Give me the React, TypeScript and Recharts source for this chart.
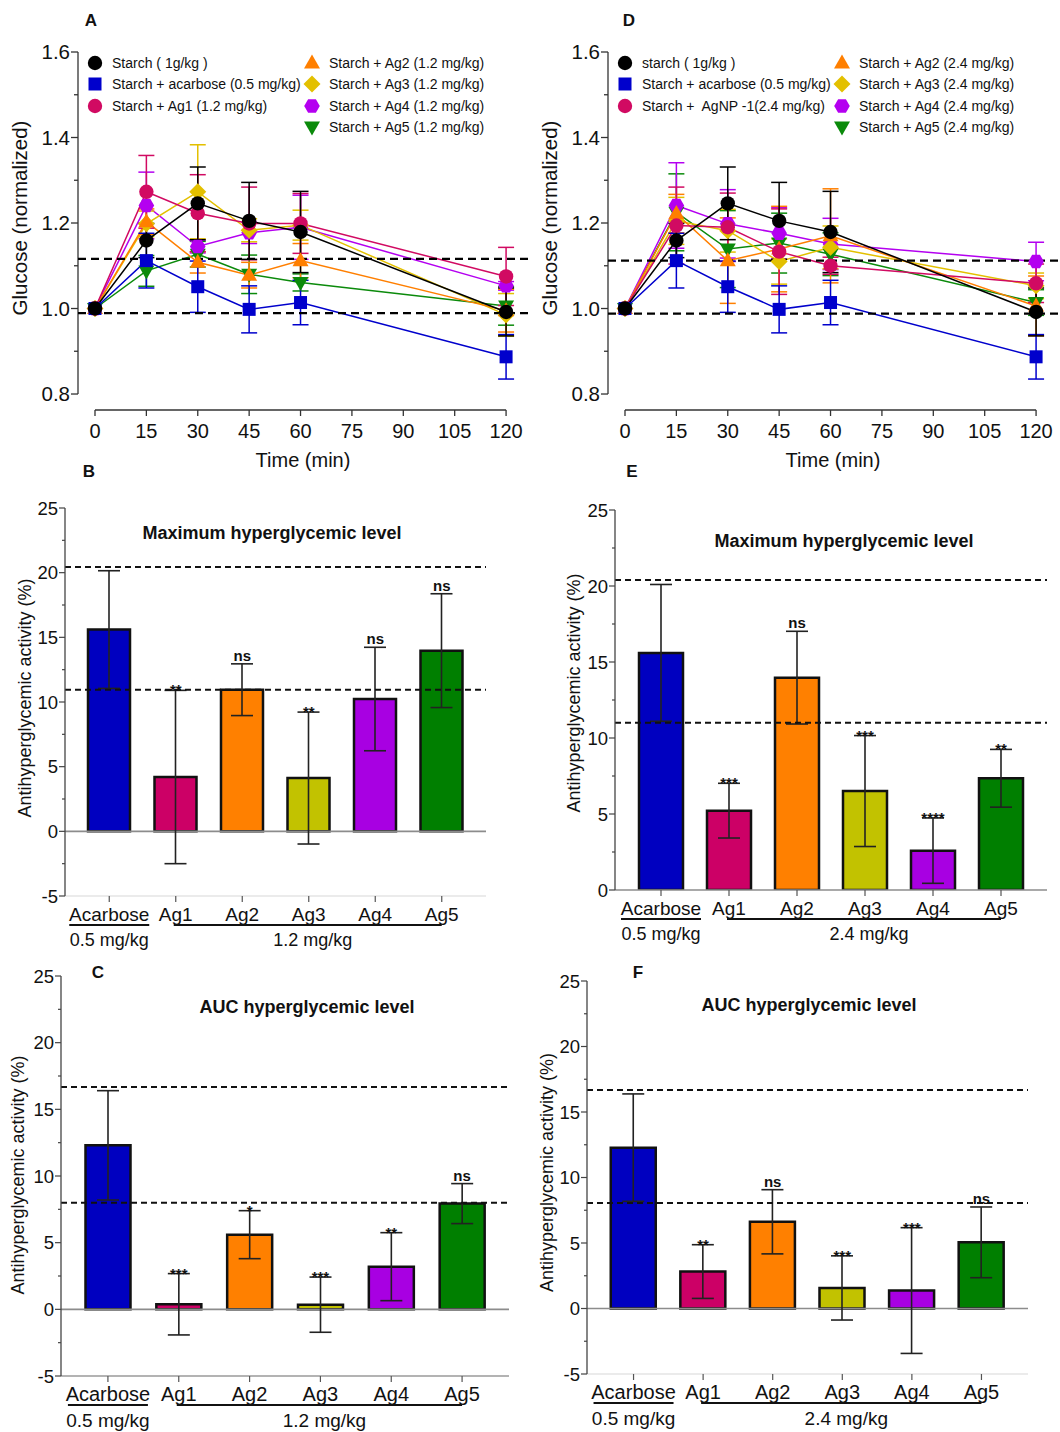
import React from 'react';
import {
  LineChart, Line, ComposedChart, Bar, Cell, XAxis, YAxis, ErrorBar,
  ReferenceLine, Legend, LabelList,
} from 'recharts';

const FONT = "'Liberation Sans', Arial, Helvetica, sans-serif";
const INK = '#111';

// ---------- time course (A, D) ----------
const times = [0, 15, 30, 45, 60, 120];
const timeTicks = [0, 15, 30, 45, 60, 75, 90, 105, 120];
const glucoseTicks = [0.8, 0.9, 1.0, 1.1, 1.2, 1.3, 1.4, 1.5, 1.6];

// controls, shared by A and D
const starchMean = [1.0, 1.159, 1.246, 1.205, 1.179, 0.992];
const starchSem = [0, 0.04, 0.085, 0.09, 0.095, 0.056];
const acarboseMean = [1.0, 1.112, 1.051, 0.998, 1.014, 0.887];
const acarboseSem = [0, 0.064, 0.06, 0.055, 0.052, 0.052];

// 1.2 mg/kg (A)
const ag1Low = [1.0, 1.273, 1.223, 1.199, 1.199, 1.075];
const ag1LowSem = [0, 0.085, 0.09, 0.085, 0.07, 0.068];
const ag2Low = [1.0, 1.203, 1.108, 1.078, 1.112, 0.995];
const ag2LowSem = [0, 0.03, 0.025, 0.03, 0.04, 0.05];
const ag3Low = [1.0, 1.198, 1.273, 1.183, 1.195, 0.985];
const ag3LowSem = [0, 0.03, 0.11, 0.027, 0.035, 0.05];
const ag4Low = [1.0, 1.241, 1.145, 1.177, 1.19, 1.053];
const ag4LowSem = [0, 0.078, 0.015, 0.025, 0.075, 0.01];
const ag5Low = [1.0, 1.088, 1.127, 1.08, 1.061, 1.006];
const ag5LowSem = [0, 0.036, 0.03, 0.045, 0.02, 0.045];

// 2.4 mg/kg (D)
const ag1High = [1.0, 1.194, 1.19, 1.133, 1.1, 1.059];
const ag1HighSem = [0, 0.09, 0.08, 0.1, 0.02, 0.045];
const ag2High = [1.0, 1.222, 1.112, 1.139, 1.17, 1.006];
const ag2HighSem = [0, 0.045, 0.1, 0.1, 0.11, 0.07];
const ag3High = [1.0, 1.205, 1.182, 1.11, 1.143, 1.053];
const ag3HighSem = [0, 0.055, 0.05, 0.053, 0.05, 0.03];
const ag4High = [1.0, 1.241, 1.198, 1.176, 1.151, 1.11];
const ag4HighSem = [0, 0.1, 0.08, 0.06, 0.06, 0.045];
const ag5High = [1.0, 1.225, 1.139, 1.153, 1.127, 1.014];
const ag5HighSem = [0, 0.09, 0.09, 0.07, 0.05, 0.03];

const glucoseRefLow = [1.116, 0.989];
const glucoseRefHigh = [1.112, 0.988];

// ---------- antihyperglycemic activity (B, C, E, F) ----------
const groups = ['Acarbose', 'Ag1', 'Ag2', 'Ag3', 'Ag4', 'Ag5'];
const barColors = ['#0000c0', '#cc0066', '#ff8000', '#c2c200', '#a800e2', '#007f00'];
const ticksWithNeg = [-5, -2.5, 0, 2.5, 5, 7.5, 10, 12.5, 15, 17.5, 20, 22.5, 25];
const ticksPos = [0, 2.5, 5, 7.5, 10, 12.5, 15, 17.5, 20, 22.5, 25];

const maxMeanLow = [15.6, 4.2, 10.95, 4.12, 10.23, 13.97];
const maxErrLow = [4.55, 6.7, 2.0, 5.1, 4.0, 4.4];
const maxSigLow = ['', '**', 'ns', '**', 'ns', 'ns'];
const maxRefLow = [20.44, 10.95];

const maxMeanHigh = [15.6, 5.22, 13.97, 6.51, 2.59, 7.35];
const maxErrHigh = [4.5, 1.8, 3.05, 3.65, 2.15, 1.9];
const maxSigHigh = ['', '***', 'ns', '***', '****', '**'];
const maxRefHigh = [20.4, 11.0];

const aucMeanLow = [12.3, 0.38, 5.6, 0.35, 3.2, 7.93];
const aucErrLow = [4.1, 2.3, 1.8, 2.07, 2.55, 1.5];
const aucSigLow = ['', '***', '*', '***', '**', 'ns'];
const aucRefLow = [16.68, 8.0];

const aucMeanHigh = [12.28, 2.82, 6.62, 1.57, 1.37, 5.05];
const aucErrHigh = [4.1, 2.05, 2.45, 2.45, 4.8, 2.7];
const aucSigHigh = ['', '**', 'ns', '***', '***', 'ns'];
const aucRefHigh = [16.68, 8.05];

type Shape = 'circle' | 'square' | 'triangle' | 'diamond' | 'hexagon' | 'triangleDown';

const lowSeries = [
  { key: 'starch', label: 'Starch ( 1g/kg )', color: '#000000', shape: 'circle', mean: starchMean, sem: starchSem },
  { key: 'acarbose', label: 'Starch + acarbose (0.5 mg/kg)', color: '#0000cc', shape: 'square', mean: acarboseMean, sem: acarboseSem },
  { key: 'ag1', label: 'Starch + Ag1 (1.2 mg/kg)', color: '#d10a62', shape: 'circle', mean: ag1Low, sem: ag1LowSem },
  { key: 'ag2', label: 'Starch + Ag2 (1.2 mg/kg)', color: '#ff7f00', shape: 'triangle', mean: ag2Low, sem: ag2LowSem },
  { key: 'ag3', label: 'Starch + Ag3 (1.2 mg/kg)', color: '#e3c000', shape: 'diamond', mean: ag3Low, sem: ag3LowSem },
  { key: 'ag4', label: 'Starch + Ag4 (1.2 mg/kg)', color: '#b400f0', shape: 'hexagon', mean: ag4Low, sem: ag4LowSem },
  { key: 'ag5', label: 'Starch + Ag5 (1.2 mg/kg)', color: '#0b8a0b', shape: 'triangleDown', mean: ag5Low, sem: ag5LowSem },
];

const highSeries = [
  { key: 'starch', label: 'starch ( 1g/kg )', color: '#000000', shape: 'circle', mean: starchMean, sem: starchSem },
  { key: 'acarbose', label: 'Starch + acarbose (0.5 mg/kg)', color: '#0000cc', shape: 'square', mean: acarboseMean, sem: acarboseSem },
  { key: 'ag1', label: 'Starch +  AgNP -1(2.4 mg/kg)', color: '#d10a62', shape: 'circle', mean: ag1High, sem: ag1HighSem },
  { key: 'ag2', label: 'Starch + Ag2 (2.4 mg/kg)', color: '#ff7f00', shape: 'triangle', mean: ag2High, sem: ag2HighSem },
  { key: 'ag3', label: 'Starch + Ag3 (2.4 mg/kg)', color: '#e3c000', shape: 'diamond', mean: ag3High, sem: ag3HighSem },
  { key: 'ag4', label: 'Starch + Ag4 (2.4 mg/kg)', color: '#b400f0', shape: 'hexagon', mean: ag4High, sem: ag4HighSem },
  { key: 'ag5', label: 'Starch + Ag5 (2.4 mg/kg)', color: '#0b8a0b', shape: 'triangleDown', mean: ag5High, sem: ag5HighSem },
];

const X_MIN = -4.96;
const X_MAX = 126.4;
const Y_MIN = 0.7626;

function Marker({ shape, cx, cy, fill }: { shape: Shape; cx: number; cy: number; fill: string }) {
  if (cx == null || cy == null) return null;
  switch (shape) {
    case 'square':
      return <rect x={cx - 6.5} y={cy - 6.5} width={13} height={13} fill={fill} />;
    case 'triangle':
      return <polygon points={`${cx},${cy - 8.5} ${cx + 8},${cy + 5.5} ${cx - 8},${cy + 5.5}`} fill={fill} />;
    case 'triangleDown':
      return <polygon points={`${cx},${cy + 8.5} ${cx + 8},${cy - 5.5} ${cx - 8},${cy - 5.5}`} fill={fill} />;
    case 'diamond':
      return <polygon points={`${cx},${cy - 8.5} ${cx + 8.5},${cy} ${cx},${cy + 8.5} ${cx - 8.5},${cy}`} fill={fill} />;
    case 'hexagon': {
      const pts = [0, 1, 2, 3, 4, 5]
        .map((k) => {
          const a = (Math.PI / 3) * k;
          return `${cx + 7.8 * Math.cos(a)},${cy + 7.8 * Math.sin(a)}`;
        })
        .join(' ');
      return <polygon points={pts} fill={fill} />;
    }
    default:
      return <circle cx={cx} cy={cy} r={7.2} fill={fill} />;
  }
}

function GlucoseTick(props: any) {
  const { x, y, payload } = props;
  const v = payload.value as number;
  const major = Math.round(v * 10) % 2 === 0;
  return (
    <g>
      <line x1={x} x2={x - (major ? 7 : 4)} y1={y} y2={y} stroke="#333" strokeWidth={1.3} />
      {major && (
        <text x={x - 8} y={y} dy="0.36em" textAnchor="end" fontSize={20.5} fill={INK} fontFamily={FONT}>
          {v.toFixed(1)}
        </text>
      )}
    </g>
  );
}

function TimeTick(props: any) {
  const { x, y, payload } = props;
  return (
    <g>
      <line x1={x} x2={x} y1={y} y2={y + 6} stroke="#333" strokeWidth={1.3} />
      <text x={x} y={y + 21} dy="0.36em" textAnchor="middle" fontSize={20} fill={INK} fontFamily={FONT}>
        {payload.value}
      </text>
    </g>
  );
}

function VTitle({ cx, cy, text, size }: any) {
  return (
    <text
      x={cx}
      y={cy}
      dy="0.36em"
      textAnchor="middle"
      transform={`rotate(-90 ${cx} ${cy})`}
      fontSize={size}
      fill={INK}
      fontFamily={FONT}
    >
      {text}
    </text>
  );
}

function GlucoseLegend({ series }: { series: any[] }) {
  const rows = [11, 32, 53.5, 75];
  return (
    <div style={{ position: 'relative', width: 450, height: 90, fontFamily: FONT, fontSize: 14, color: INK }}>
      {series.map((s, i) => {
        const right = i >= 3;
        const row = right ? i - 3 : i;
        const mx = right ? 232 : 15;
        return (
          <div
            key={s.key}
            style={{
              position: 'absolute',
              left: mx - 9,
              top: rows[row] - 9,
              height: 18,
              display: 'flex',
              alignItems: 'center',
              whiteSpace: 'pre',
            }}
          >
            <svg width={18} height={18} style={{ marginRight: 8 }}>
              <Marker shape={s.shape} cx={9} cy={9} fill={s.color} />
            </svg>
            <span>{s.label}</span>
          </div>
        );
      })}
    </div>
  );
}

function GlucosePanel({ left, series, refs }: { left: number; series: any[]; refs: number[] }) {
  const rows = times.map((t, i) => {
    const row: any = { time: t };
    series.forEach((s) => {
      row[s.key] = s.mean[i];
      row[`${s.key}Err`] = s.sem[i] ? s.sem[i] : null;
    });
    return row;
  });
  const drawOrder = [...series].reverse();
  return (
    <div style={{ position: 'absolute', left, top: 0 }}>
      <LineChart width={530} height={472} data={rows} margin={{ top: 52, right: 2, bottom: 0, left: 18 }}>
        <XAxis
          dataKey="time"
          type="number"
          domain={[X_MIN, X_MAX]}
          ticks={timeTicks}
          interval={0}
          allowDataOverflow
          axisLine={false}
          tickLine={false}
          tickSize={0}
          tickMargin={0}
          height={62}
          tick={<TimeTick />}
          label={{ value: 'Time (min)', position: 'insideBottom', offset: 5, style: { fontSize: 20, fill: INK, fontFamily: FONT } }}
        />
        <YAxis
          type="number"
          domain={[Y_MIN, 1.6]}
          ticks={glucoseTicks}
          interval={0}
          allowDataOverflow
          axisLine={false}
          tickLine={false}
          tickSize={0}
          tickMargin={0}
          width={60}
          tick={<GlucoseTick />}
          label={<VTitle cx={20} cy={218} text="Glucose (normalized)" size={20.5} />}
        />
        <ReferenceLine segment={[{ x: X_MIN, y: 0.8 }, { x: X_MIN, y: 1.6 }]} stroke="#333" strokeWidth={1.3} ifOverflow="visible" />
        <ReferenceLine segment={[{ x: 0, y: Y_MIN }, { x: 120, y: Y_MIN }]} stroke="#333" strokeWidth={1.3} ifOverflow="visible" />
        {drawOrder.map((s) => (
          <Line
            key={s.key}
            dataKey={s.key}
            stroke={s.color}
            strokeWidth={1.5}
            isAnimationActive={false}
            activeDot={false}
            dot={(p: any) => <Marker key={`${s.key}-${p.index}`} shape={s.shape} cx={p.cx} cy={p.cy} fill={s.color} />}
          >
            <ErrorBar dataKey={`${s.key}Err`} width={8} stroke={s.color} strokeWidth={1.5} direction="y" />
          </Line>
        ))}
        {refs.map((v) => (
          <ReferenceLine key={v} y={v} stroke="#000" strokeWidth={2.3} strokeDasharray="8 5" />
        ))}
        <Legend
          layout="horizontal"
          verticalAlign="middle"
          align="center"
          wrapperStyle={{ left: 80, top: 52, width: 450, height: 90 }}
          content={() => <GlucoseLegend series={series} />}
        />
      </LineChart>
    </div>
  );
}

function GroupTick(props: any) {
  const { x, y, payload, index, dose, step, font } = props;
  const st = payload && payload.offset ? payload.offset * 2 : step;
  return (
    <g fontFamily={FONT} fill={INK}>
      <line x1={x} x2={x} y1={y} y2={y + 6} stroke="#555" strokeWidth={1.2} />
      <text x={x} y={y + 18} dy="0.36em" textAnchor="middle" fontSize={font}>
        {payload.value}
      </text>
      {index === 0 && (
        <>
          <line x1={x - 40} x2={x + 40} y1={y + 29} y2={y + 29} stroke="#111" strokeWidth={2} />
          <text x={x} y={y + 44} dy="0.36em" textAnchor="middle" fontSize={font - 1}>
            0.5 mg/kg
          </text>
        </>
      )}
      {index === 1 && <line x1={x - 2} x2={x + 4 * st} y1={y + 29} y2={y + 29} stroke="#111" strokeWidth={2} />}
      {index === 3 && (
        <text x={x + 4} y={y + 44} dy="0.36em" textAnchor="middle" fontSize={font - 1}>
          {dose}
        </text>
      )}
    </g>
  );
}

function ActivityTick(props: any) {
  const { x, y, payload, font } = props;
  const v = payload.value as number;
  const major = v % 5 === 0;
  return (
    <g>
      <line x1={x} x2={x - (major ? 6 : 3)} y1={y} y2={y} stroke="#444" strokeWidth={1.2} />
      {major && (
        <text x={x - 7} y={y} dy="0.36em" textAnchor="end" fontSize={font} fill={INK} fontFamily={FONT}>
          {v}
        </text>
      )}
    </g>
  );
}

function SigLabel(props: any) {
  const { x, y, value } = props;
  if (!value) return null;
  const ns = value === 'ns';
  return (
    <text
      x={x}
      y={ns ? y - 3 : y + 5}
      textAnchor="middle"
      fontSize={ns ? 15 : 15}
      fontWeight="bold"
      fill={INK}
      fontFamily={FONT}
    >
      {value}
    </text>
  );
}

function ActivityPanel(cfg: any) {
  const rows = groups.map((g, i) => ({
    group: g,
    mean: cfg.means[i],
    err: cfg.errs[i],
    sig: cfg.sigs[i],
    top: cfg.means[i] + cfg.errs[i],
  }));
  const plotW = cfg.width - cfg.margin.left - cfg.margin.right - cfg.yWidth;
  const step = (plotW - 2 * cfg.pad) / groups.length;
  return (
    <div style={{ position: 'absolute', left: cfg.left, top: cfg.top }}>
      <ComposedChart width={cfg.width} height={cfg.height} data={rows} margin={cfg.margin}>
        <XAxis
          dataKey="group"
          type="category"
          interval={0}
          padding={{ left: cfg.pad, right: cfg.pad }}
          axisLine={{ stroke: cfg.axisStroke, strokeWidth: 1.5 }}
          tickLine={false}
          tickSize={0}
          tickMargin={0}
          height={cfg.xHeight}
          tick={<GroupTick dose={cfg.dose} step={step} font={cfg.labelFont} />}
        />
        <YAxis
          type="number"
          domain={cfg.domain}
          ticks={cfg.ticks}
          interval={0}
          allowDataOverflow
          axisLine={{ stroke: '#444', strokeWidth: 1.3 }}
          tickLine={false}
          tickSize={0}
          tickMargin={0}
          width={cfg.yWidth}
          tick={<ActivityTick font={18.5} />}
          label={<VTitle cx={cfg.titleX} cy={cfg.titleY} text="Antihyperglycemic activity (%)" size={18} />}
        />
        {cfg.zero && <ReferenceLine y={0} stroke="#8c8c8c" strokeWidth={1.6} />}
        <Bar dataKey="mean" barSize={cfg.barSize} stroke="#111" strokeWidth={2.5} isAnimationActive={false}>
          {rows.map((r, i) => (
            <Cell key={r.group} fill={barColors[i]} />
          ))}
          <ErrorBar dataKey="err" width={11} stroke="#222" strokeWidth={1.6} direction="y" />
        </Bar>
        {cfg.refs.map((v: number) => (
          <ReferenceLine key={v} y={v} stroke="#111" strokeWidth={2} strokeDasharray="6 4" />
        ))}
        <Line dataKey="top" stroke="none" dot={false} activeDot={false} isAnimationActive={false} legendType="none">
          <LabelList dataKey="sig" content={<SigLabel />} />
        </Line>
      </ComposedChart>
    </div>
  );
}

const panelLetters = [
  { t: 'A', x: 91, y: 20 },
  { t: 'D', x: 629, y: 20 },
  { t: 'B', x: 89, y: 471 },
  { t: 'E', x: 632, y: 471 },
  { t: 'C', x: 98, y: 972 },
  { t: 'F', x: 638, y: 972 },
];

const panelTitles = [
  { t: 'Maximum hyperglycemic level', x: 272, y: 533 },
  { t: 'Maximum hyperglycemic level', x: 844, y: 541 },
  { t: 'AUC hyperglycemic level', x: 307, y: 1007 },
  { t: 'AUC hyperglycemic level', x: 809, y: 1005 },
];

export default function App() {
  return (
    <div style={{ position: 'absolute', left: 0, top: 0, width: 1060, height: 1432, background: '#fff', fontFamily: FONT, overflow: 'hidden' }}>
      <GlucosePanel left={0} series={lowSeries} refs={glucoseRefLow} />
      <GlucosePanel left={530} series={highSeries} refs={glucoseRefHigh} />

      <ActivityPanel
        left={0} top={480} width={500} height={476} xHeight={60}
        margin={{ top: 28, right: 14, bottom: 0, left: 5 }} yWidth={60}
        domain={[-5, 25]} ticks={ticksWithNeg} pad={11} barSize={42}
        means={maxMeanLow} errs={maxErrLow} sigs={maxSigLow} refs={maxRefLow}
        dose="1.2 mg/kg" axisStroke="#e4e4e4" zero titleX={25} titleY={218} labelFont={19}
      />
      <ActivityPanel
        left={530} top={480} width={530} height={470} xHeight={60}
        margin={{ top: 30, right: 13, bottom: 0, left: 25 }} yWidth={60}
        domain={[0, 25]} ticks={ticksPos} pad={12} barSize={44}
        means={maxMeanHigh} errs={maxErrHigh} sigs={maxSigHigh} refs={maxRefHigh}
        dose="2.4 mg/kg" axisStroke="#8c8c8c" zero={false} titleX={44} titleY={213} labelFont={19}
      />
      <ActivityPanel
        left={0} top={950} width={520} height={482} xHeight={56}
        margin={{ top: 26, right: 11, bottom: 0, left: 1 }} yWidth={60}
        domain={[-5, 25]} ticks={ticksWithNeg} pad={11.5} barSize={45}
        means={aucMeanLow} errs={aucErrLow} sigs={aucSigLow} refs={aucRefLow}
        dose="1.2 mg/kg" axisStroke="#9a9a9a" zero titleX={18} titleY={225} labelFont={20}
      />
      <ActivityPanel
        left={530} top={950} width={530} height={480} xHeight={56}
        margin={{ top: 31, right: 32, bottom: 0, left: 0 }} yWidth={57}
        domain={[-5, 25]} ticks={ticksWithNeg} pad={11.75} barSize={45}
        means={aucMeanHigh} errs={aucErrHigh} sigs={aucSigHigh} refs={aucRefHigh}
        dose="2.4 mg/kg" axisStroke="#e4e4e4" zero titleX={17} titleY={222.5} labelFont={20}
      />

      {panelLetters.map((l) => (
        <div
          key={l.t}
          style={{ position: 'absolute', left: l.x, top: l.y, transform: 'translate(-50%, -50%)', fontWeight: 'bold', fontSize: 17, lineHeight: 1, color: INK }}
        >
          {l.t}
        </div>
      ))}
      {panelTitles.map((p, i) => (
        <div
          key={i}
          style={{ position: 'absolute', left: p.x, top: p.y, transform: 'translate(-50%, -50%)', fontWeight: 'bold', fontSize: 18, lineHeight: 1, whiteSpace: 'nowrap', color: INK }}
        >
          {p.t}
        </div>
      ))}
    </div>
  );
}
